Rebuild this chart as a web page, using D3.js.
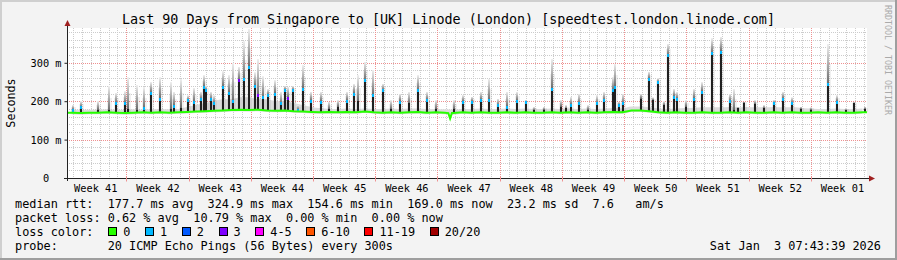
<!DOCTYPE html>
<html>
<head>
<meta charset="utf-8">
<script src="https://cdn.jsdelivr.net/npm/d3@7"></script>
<style>
  body { margin: 0; background: #f3f3f3; }
  svg text { font-family: "DejaVu Sans Mono", monospace; white-space: pre; }
</style>
</head>
<body>
<svg id="chart" width="897" height="260"></svg>
<script>
// 时间范围：最近90天
const endTime = new Date(2026, 0, 3, 7, 43, 39);
const spanDays = 90;

// 每日基线中位数 (ms)
const baseline = [
  170,169,170,170,171,170,169,170,171,170,171,170,171,
  172,173,174,175,176,177,178,177,178,176,175,176,174,173,172,171,
  172,171,172,171,173,171,170,171,170,171,172,170,171,170,
  169,
  171,170,171,170,170,171,170,171,170,170,171,170,171,170,171,170,171,172,171,
  176,176,174,
  171,170,171,170,170,171,170,170,171,170,171,170,170,171,170,171,170,170,171,170,171,170,170,171
];
// 每日基线烟雾上沿 (ms)
const baselineTop = [
  178,178,178,178,179,178,178,179,178,179,180,179,180,
  185,190,195,200,205,205,210,210,205,205,200,200,195,190,185,182,
  180,180,181,180,181,180,180,181,180,181,181,180,180,179,
  178,
  180,180,181,180,180,181,180,181,180,180,181,180,181,180,181,180,181,182,181,
  186,186,184,
  181,180,181,182,183,184,184,184,185,184,185,184,184,185,184,184,183,181,180,180,181,180,180,181
];

// 尖峰：天数偏移、中位数、最大值、丢包数
const spikeDay = [
  0.68,1.58,3.49,4.73,5.51,6.53,6.86,7.88,8.66,9.45,10.46,11.70,12.04,12.83,13.61,14.29,15.08,15.41,15.64,16.20,16.54,17.55,18.23,18.68,19.35,19.91,20.48,21.15,21.49,22.05,
  22.61,23.40,24.07,24.52,24.86,25.42,25.99,26.55,27.45,28.58,29.48,30.49,31.50,32.29,32.74,33.52,34.42,35.55,36.45,37.46,38.47,39.49,40.50,41.51,43.54,44.55,
  45.56,46.58,47.48,48.49,49.50,50.63,51.64,52.54,53.66,54.56,55.58,56.14,56.70,57.60,58.61,59.63,60.41,61.42,61.65,62.10,62.55,64.58,65.48,65.93,66.49,67.16,
  67.61,68.29,68.63,69.64,70.54,71.44,72.56,73.58,74.59,75.04,75.49,76.16,77.40,78.41,79.54,80.55,81.56,82.57,83.70,85.61,86.62,87.64,88.54,89.77
];
const spikeMedian = [
  178,185,178,176,195,194,180,178,182,222,207,180,188,183,203,198,205,238,229,205,195,238,222,200,255,258,290,240,215,210,
  216,220,194,229,209,229,178,233,201,199,180,186,201,220,200,255,216,229,180,199,194,229,203,180,180,199,
  199,203,203,190,186,201,199,177,178,233,186,181,190,194,178,194,203,229,238,190,194,207,259,203,250,190,
  320,212,207,186,207,225,325,329,200,178,181,196,193,182,196,207,196,180,178,245,199,176,194,180
];
const spikeMax = [
  190,200,200,240,222,226,262,242,236,250,262,250,225,258,215,235,225,268,240,225,215,278,268,300,290,356,388,275,310,265,
  232,255,225,240,238,240,190,294,225,225,199,203,225,246,268,303,281,246,203,220,225,268,225,203,203,216,
  212,225,259,207,225,225,203,185,185,311,203,190,212,220,190,216,225,264,298,199,220,220,277,210,260,200,
  350,233,225,203,233,250,364,368,220,233,186,199,203,190,203,225,210,186,184,350,216,182,199,186
];
const spikeLoss = [
  1,1,0,0,1,1,0,0,1,1,1,0,1,0,1,1,1,1,1,1,1,1,1,1,3,1,1,1,3,1,
  1,1,1,1,3,1,1,1,1,1,0,0,1,1,0,1,1,1,0,1,0,1,1,0,0,1,
  1,1,1,1,1,1,1,0,0,1,0,0,1,1,0,1,1,1,1,1,1,0,1,0,1,0,
  1,1,1,0,1,1,1,1,1,0,0,0,0,0,1,1,1,0,0,1,1,0,0,0
];
// 向下的凹陷
const dipDay = [43.10];
const dipValue = [155];

// 坐标轴与图例
const yTicks = [0, 100, 200, 300];
const yMax = 390.6;
const lossLabels = ['0', '1', '2', '3', '4-5', '6-10', '11-19', '20/20'];
const lossColors = ['#26ff00', '#00b8ff', '#0059ff', '#7e00ff', '#ff00ff', '#ff5500', '#ff0000', '#a10000'];

const titleText = 'Last 90 Days from Singapore to [UK] Linode (London) [speedtest.london.linode.com]';
const legendRows = [
  'median rtt:  177.7 ms avg  324.9 ms max  154.6 ms min  169.0 ms now  23.2 ms sd  7.6   am/s',
  'packet loss: 0.62 % avg  10.79 % max  0.00 % min  0.00 % now',
  'loss color:',
  'probe:       20 ICMP Echo Pings (56 Bytes) every 300s'
];
const stampText = 'Sat Jan  3 07:43:39 2026';

// ---- 绘图 ----
const svg = d3.select('#chart');
const W = 897, H = 260;
const plot = { left: 67, top: 28, width: 800, height: 150 };

const startTime = new Date(+endTime - spanDays * 864e5);
const toDate = d => new Date(+startTime + d * 864e5);

const x = d3.scaleTime().domain([startTime, endTime]).range([plot.left, plot.left + plot.width]);
const y = d3.scaleLinear().domain([0, yMax]).range([plot.top + plot.height, plot.top]);

// 背景和边框
svg.append('rect').attr('width', W).attr('height', H).attr('fill', '#f3f3f3');
svg.append('path').attr('d', `M0,0H${W}V2H2V${H}H0Z`).attr('fill', '#cfcfcf');
svg.append('path').attr('d', `M${W},${H}H0V${H - 2}H${W - 2}V0H${W}Z`).attr('fill', '#9e9e9e');

// 画布
svg.append('rect')
  .attr('x', plot.left).attr('y', plot.top)
  .attr('width', plot.width).attr('height', plot.height)
  .attr('fill', '#ffffff');

// 网格
const grid = svg.append('g').attr('shape-rendering', 'crispEdges');
const days = d3.timeDay.range(d3.timeDay.ceil(startTime), endTime);
const weeks = d3.timeSunday.range(d3.timeSunday.ceil(startTime), endTime);
const px = v => Math.round(v) + 0.5;

grid.selectAll('.vminor')
  .data(days.filter(d => d.getDay() !== 0))
  .enter().append('line')
  .attr('x1', d => px(x(d))).attr('x2', d => px(x(d)))
  .attr('y1', plot.top).attr('y2', plot.top + plot.height)
  .attr('stroke', '#cccccc').attr('stroke-dasharray', '1,1');

grid.selectAll('.hminor')
  .data(d3.range(20, yMax, 20).filter(v => v % 100 !== 0))
  .enter().append('line')
  .attr('x1', plot.left).attr('x2', plot.left + plot.width)
  .attr('y1', d => px(y(d))).attr('y2', d => px(y(d)))
  .attr('stroke', '#cccccc').attr('stroke-dasharray', '1,1');

grid.selectAll('.vmajor')
  .data(weeks)
  .enter().append('line')
  .attr('x1', d => px(x(d))).attr('x2', d => px(x(d)))
  .attr('y1', plot.top).attr('y2', plot.top + plot.height)
  .attr('stroke', '#ee9090').attr('stroke-dasharray', '1,1');

grid.selectAll('.hmajor')
  .data(yTicks.filter(v => v > 0))
  .enter().append('line')
  .attr('x1', plot.left).attr('x2', plot.left + plot.width)
  .attr('y1', d => px(y(d))).attr('y2', d => px(y(d)))
  .attr('stroke', '#ee9090').attr('stroke-dasharray', '1,1');

// 基线烟雾
const smokeArea = d3.area()
  .x((d, i) => x(toDate(i + 0.5)))
  .y0(d => y(d - 4))
  .y1((d, i) => y(baselineTop[i]))
  .curve(d3.curveMonotoneX);
svg.append('path').datum(baseline)
  .attr('d', smokeArea)
  .attr('fill', '#dcdcdc');

// 尖峰数据
const spikes = spikeDay.map((d, i) => ({
  day: d,
  base: baseline[Math.min(spanDays - 1, Math.floor(d))],
  med: spikeMedian[i],
  max: spikeMax[i],
  loss: spikeLoss[i]
}));

const defs = svg.append('defs');
const grad = defs.append('linearGradient').attr('id', 'smoke')
  .attr('x1', 0).attr('y1', 0).attr('x2', 0).attr('y2', 1);
grad.append('stop').attr('offset', '0%').attr('stop-color', '#f0f0f0');
grad.append('stop').attr('offset', '100%').attr('stop-color', '#6a6a6a');

const sp = svg.append('g').attr('shape-rendering', 'crispEdges');
const sx = d => Math.round(x(toDate(d.day)));

// 外围淡烟雾
sp.selectAll('.halo')
  .data(spikes)
  .enter().append('rect')
  .attr('x', d => sx(d) - 2).attr('width', 5)
  .attr('y', d => y((d.max + d.med) / 2))
  .attr('height', d => Math.max(0, y(d.base) - y((d.max + d.med) / 2)))
  .attr('fill', '#000').attr('opacity', 0.06);

// 上部烟雾
sp.selectAll('.smoke')
  .data(spikes)
  .enter().append('rect')
  .attr('x', d => sx(d) - 1).attr('width', 2)
  .attr('y', d => y(d.max))
  .attr('height', d => Math.max(0, y(d.med) - y(d.max)))
  .attr('fill', 'url(#smoke)');

// 深色核心
sp.selectAll('.core')
  .data(spikes.filter(d => d.med > d.base))
  .enter().append('rect')
  .attr('x', d => sx(d) - 1).attr('width', 2)
  .attr('y', d => y(d.med))
  .attr('height', d => y(d.base) - y(d.med))
  .attr('fill', '#202020');

// 中位数线
const linePts = baseline.map((v, i) => [i + 0.5, v]);
dipDay.forEach((d, i) => {
  const b = baseline[Math.floor(d)];
  linePts.push([d - 0.2, b], [d, dipValue[i]], [d + 0.2, b]);
});
linePts.sort((a, b) => a[0] - b[0]);
linePts.unshift([0, baseline[0]]);
linePts.push([spanDays, baseline[spanDays - 1]]);
svg.append('path').datum(linePts)
  .attr('d', d3.line().x(d => x(toDate(d[0]))).y(d => y(d[1])))
  .attr('fill', 'none')
  .attr('stroke', lossColors[0])
  .attr('stroke-width', 2);

// 尖峰中位数点
sp.selectAll('.dot')
  .data(spikes.filter(d => d.loss > 0))
  .enter().append('rect')
  .attr('x', d => sx(d) - 1).attr('width', 2)
  .attr('y', d => Math.round(y(d.med)) - 1).attr('height', 3)
  .attr('fill', d => lossColors[d.loss]);

// 坐标轴
const axisColor = '#222';
const arrowColor = '#a02020';
const yAxis = svg.append('g')
  .attr('transform', `translate(${plot.left + 0.5},0)`)
  .call(d3.axisLeft(y).tickValues(yTicks).tickSize(3).tickPadding(3)
    .tickFormat(v => v === 0 ? '0  ' : `${v} m`));
yAxis.select('.domain').remove();
yAxis.selectAll('line').attr('stroke', axisColor).attr('x2', -3);
yAxis.selectAll('text')
  .attr('font-family', '"DejaVu Sans Mono", monospace')
  .attr('font-size', '10.3px').attr('fill', '#000').attr('dy', '0.36em');

svg.append('line')
  .attr('x1', plot.left + 0.5).attr('x2', plot.left + 0.5)
  .attr('y1', plot.top + plot.height + 3).attr('y2', 25)
  .attr('stroke', axisColor);
svg.append('path')
  .attr('d', `M${plot.left - 2.5},26L${plot.left + 3.5},26L${plot.left + 0.5},20Z`)
  .attr('fill', arrowColor);

const xBase = plot.top + plot.height + 0.5;
svg.append('line')
  .attr('x1', plot.left - 3).attr('x2', plot.left + plot.width + 3)
  .attr('y1', xBase).attr('y2', xBase)
  .attr('stroke', axisColor);
svg.append('path')
  .attr('d', `M${plot.left + plot.width + 2},${xBase - 3}L${plot.left + plot.width + 2},${xBase + 3}L${plot.left + plot.width + 8},${xBase}Z`)
  .attr('fill', arrowColor);

// 周刻度
svg.append('g').selectAll('line')
  .data(weeks)
  .enter().append('line')
  .attr('x1', d => px(x(d))).attr('x2', d => px(x(d)))
  .attr('y1', xBase - 2).attr('y2', xBase + 3)
  .attr('stroke', '#ee9090');

const weekMids = [d3.timeSunday.offset(weeks[0], -1)].concat(weeks)
  .map(d => d3.timeHour.offset(d, 84))
  .filter(d => d > startTime && d < endTime);
const xAxis = svg.append('g')
  .attr('transform', `translate(0,${xBase})`)
  .call(d3.axisBottom(x).tickValues(weekMids).tickSize(0).tickPadding(5.7)
    .tickFormat(d => 'Week ' + d3.timeFormat('%V')(d)));
xAxis.select('.domain').remove();
xAxis.selectAll('text')
  .attr('font-family', '"DejaVu Sans Mono", monospace')
  .attr('font-size', '10.3px').attr('fill', '#000');

// 标题
svg.append('text')
  .attr('x', W / 2).attr('y', 24)
  .attr('text-anchor', 'middle')
  .style('font-size', '13.4px')
  .text(titleText);

// Y轴标题
svg.append('text')
  .attr('transform', 'translate(14.5,103) rotate(-90)')
  .attr('text-anchor', 'middle')
  .style('font-size', '11.7px')
  .text('Seconds');

// RRDTOOL 标记
svg.append('text')
  .attr('transform', 'translate(885,5) rotate(90)')
  .style('font-size', '8.3px')
  .attr('fill', '#aaaaaa')
  .text('RRDTOOL / TOBI OETIKER');

// 图例
const legendFont = 11.85;
const charW = legendFont * 0.6021;
const rowY = [208, 222, 235.5, 249.5];
legendRows.forEach((t, i) => {
  svg.append('text')
    .attr('x', 15).attr('y', rowY[i])
    .style('font-size', legendFont + 'px')
    .text(t);
});

let swX = 108.3;
lossLabels.forEach((lab, i) => {
  svg.append('rect')
    .attr('x', Math.round(swX) + 0.5).attr('y', 227.5)
    .attr('width', 8).attr('height', 8)
    .attr('fill', lossColors[i]).attr('stroke', '#000');
  svg.append('text')
    .attr('x', swX + 15).attr('y', rowY[2])
    .style('font-size', legendFont + 'px')
    .text(lab);
  swX += (lab.length + 4.15) * charW;
});

svg.append('text')
  .attr('x', 881).attr('y', rowY[3])
  .attr('text-anchor', 'end')
  .style('font-size', legendFont + 'px')
  .text(stampText);
</script>
</body>
</html>
